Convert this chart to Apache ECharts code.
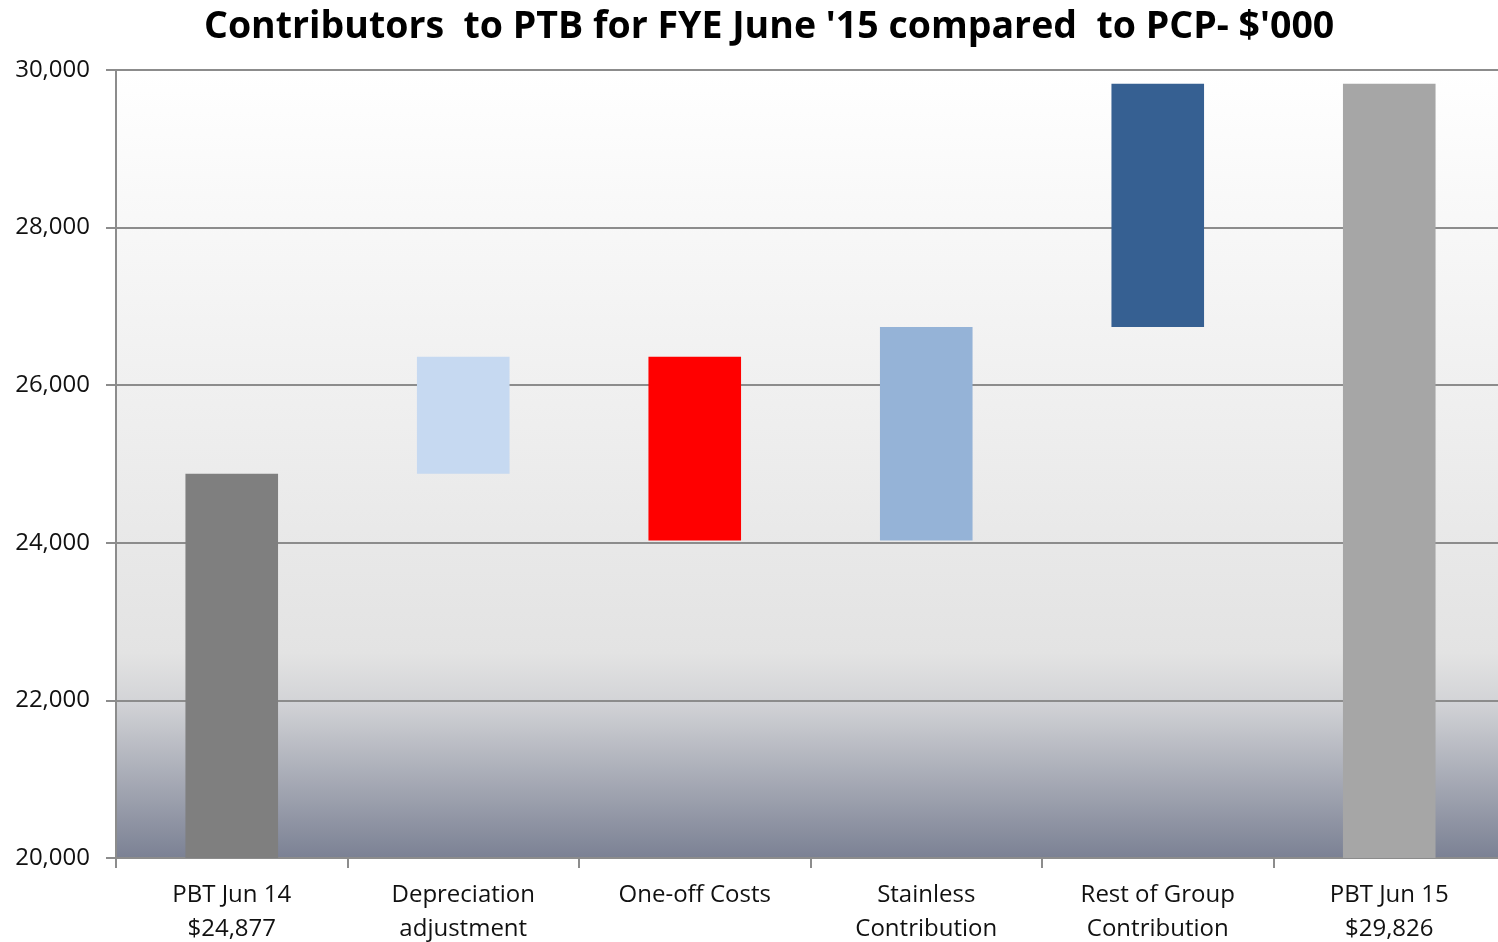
<!DOCTYPE html>
<html>
<head>
    <meta charset="utf-8">
    <script src="https://cdn.jsdelivr.net/npm/echarts@6/dist/echarts.min.js"></script>
    <style>
        html, body { margin: 0; padding: 0; background: #ffffff; }
    </style>
</head>
<body>
    <div id="main" style="width: 1498px;height:942px;"></div>
    <script type="text/javascript">
        var myChart = echarts.init(document.getElementById('main'));

        // data ($'000)
        var categories = ['PBT Jun 14\n$24,877', 'Depreciation\nadjustment', 'One-off Costs',
                          'Stainless\nContribution', 'Rest of Group\nContribution', 'PBT Jun 15\n$29,826'];
        // first and last are totals, the rest are changes
        var steps = [24877, 1483, -2330, 2710, 3086, 29826];
        var isTotal = [true, false, false, false, false, true];
        var colors = ['#7f7f7f', '#c6d9f1', '#ff0000', '#95b3d7', '#366092', '#a6a6a6'];
        var yTicks = [20000, 22000, 24000, 26000, 28000, 30000];

        // build floating bars: transparent base + visible part
        var baseData = [], barData = [];
        var running = 0;
        for (var i = 0; i < steps.length; i++) {
            if (isTotal[i]) {
                running = steps[i];
                baseData.push(0);
                barData.push({ value: steps[i], itemStyle: { color: colors[i] } });
            } else {
                var from = running, to = running + steps[i];
                baseData.push(Math.min(from, to));
                barData.push({ value: Math.abs(steps[i]), itemStyle: { color: colors[i] } });
                running = to;
            }
        }

        var fontName = '"Open Sans", "Noto Sans", sans-serif';

        var option = {
            animation: false,
            title: {
                text: "Contributors  to PTB for FYE June '15 compared  to PCP- $'000",
                left: 199,
                top: 3,
                textStyle: {
                    fontFamily: fontName,
                    fontSize: 37.5,
                    fontWeight: 'bold',
                    color: '#000000'
                }
            },
            grid: {
                left: 116,
                top: 70,
                width: 1389,
                bottom: 84,
                outerBoundsMode: 'none',
                containLabel: false,
                show: true,
                borderWidth: 0,
                backgroundColor: {
                    type: 'linear', x: 0, y: 0, x2: 0, y2: 1,
                    colorStops: [
                        { offset: 0, color: '#ffffff' },
                        { offset: 0.45, color: '#eeeeee' },
                        { offset: 0.74, color: '#e3e3e3' },
                        { offset: 0.8, color: '#d3d4d7' },
                        { offset: 1, color: '#7b8194' }
                    ]
                }
            },
            xAxis: {
                type: 'category',
                data: categories,
                axisLine: { lineStyle: { color: '#8c8c8c', width: 2 } },
                axisTick: { show: true, length: 10, lineStyle: { color: '#8c8c8c', width: 2 } },
                axisLabel: {
                    fontFamily: fontName,
                    fontSize: 24,
                    color: '#111111',
                    lineHeight: 34,
                    margin: 20
                }
            },
            yAxis: {
                type: 'value',
                min: yTicks[0],
                max: yTicks[yTicks.length - 1],
                interval: 2000,
                axisLine: { show: true, lineStyle: { color: '#8c8c8c', width: 2 } },
                axisTick: { show: true, length: 10, lineStyle: { color: '#8c8c8c', width: 2 } },
                splitLine: { lineStyle: { color: '#8c8c8c', width: 2 } },
                axisLabel: {
                    fontFamily: fontName,
                    fontSize: 24,
                    color: '#111111',
                    margin: 26,
                    formatter: function (v) {
                        return v.toLocaleString('en-US');
                    }
                }
            },
            series: [
                {
                    name: 'base',
                    type: 'bar',
                    stack: 'wf',
                    barWidth: '40%',
                    itemStyle: { color: 'transparent' },
                    silent: true,
                    data: baseData
                },
                {
                    name: 'value',
                    type: 'bar',
                    stack: 'wf',
                    barWidth: '40%',
                    data: barData
                }
            ]
        };

        myChart.setOption(option);
    </script>
</body>
</html>
